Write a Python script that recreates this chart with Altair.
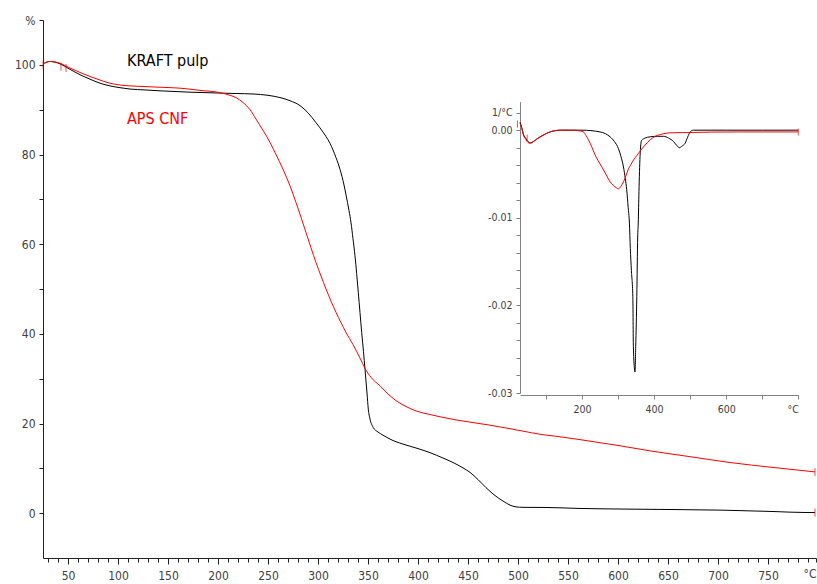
import altair as alt
import pandas as pd

# ---------------- Main TGA curves (temperature °C, mass %) ----------------
kraft_T = [25, 32, 40, 52, 62, 72, 82, 92, 102, 112, 127, 142, 157, 172, 187, 202, 218, 235,
           250, 262, 272, 282, 290, 298, 305, 308, 312, 315, 318, 322, 326, 328, 331, 333, 335,
           337, 340.3, 343.7, 345.5, 347, 349, 350.3, 352, 355.3, 360, 365, 375, 388, 400, 412,
           425, 435, 445, 452, 460, 468, 476, 485, 492, 498, 505, 528, 562, 612, 660, 705, 755,
           787, 797]
kraft_v = [100.2, 100.75, 100.4, 99.0, 97.8, 96.8, 95.9, 95.3, 94.9, 94.6, 94.4, 94.2, 94.05,
           93.9, 93.8, 93.7, 93.6, 93.5, 93.2, 92.7, 92.0, 90.9, 89.3, 87.1, 85.0, 84.0, 82.5,
           81.0, 79.3, 76.7, 73.2, 71.0, 67.5, 64.8, 61.2, 57.4, 49.2, 40.3, 36.0, 32.1, 26.8,
           23.2, 21.0, 19.1, 18.1, 17.4, 16.2, 15.2, 14.4, 13.5, 12.3, 11.3, 10.1, 9.1, 7.5, 5.7,
           4.1, 2.7, 1.8, 1.4, 1.3, 1.27, 1.05, 0.9, 0.8, 0.67, 0.37, 0.15, 0.15]

cnf_T = [25, 32, 40, 52, 62, 72, 82, 92, 102, 112, 122, 142, 162, 182, 202, 212, 218, 225,
         232, 238, 245, 252, 258, 265, 272, 278, 283, 288, 293, 298, 303, 308, 313, 318, 323,
         328, 335, 342, 347, 353, 362, 370, 378, 388, 398, 410, 422, 438, 455, 470, 488, 505,
         522, 540, 562, 600, 632, 672, 712, 755, 797]
cnf_v = [100.2, 100.75, 100.5, 99.3, 98.3, 97.4, 96.6, 95.9, 95.5, 95.3, 95.2, 95.0, 94.8,
         94.3, 93.8, 93.2, 92.7, 91.6, 90.0, 87.9, 85.4, 82.7, 80.0, 76.7, 73.0, 69.3, 66.0,
         62.6, 59.2, 55.9, 52.9, 50.0, 47.3, 44.8, 42.5, 40.3, 37.6, 34.6, 32.3, 30.3, 28.4,
         26.6, 25.1, 23.8, 22.8, 22.1, 21.5, 20.8, 20.2, 19.7, 19.0, 18.3, 17.6, 17.1, 16.4,
         15.1, 13.9, 12.6, 11.3, 10.2, 9.2]

# ---------------- Inset DTG curves (°C, 1/°C) ----------------
kraft_dT = [28, 33, 37, 45, 50, 57, 65, 75, 92, 105, 120, 140, 200, 250, 265, 278, 290, 301,
            308, 315, 320, 324, 328, 331.5, 334, 337, 341, 342.5, 346, 347, 349, 352, 354.5,
            356, 358, 361, 365, 375, 389, 410, 426, 440, 454, 462, 470, 478, 486, 493, 500,
            509, 600, 700, 800]
kraft_d = [0.0009, 0.0003, -0.0004, -0.0010, -0.0013, -0.00145, -0.0013, -0.0010, -0.00057,
           -0.0003, -0.0001, 0.0, 0.0, -0.0002, -0.0004, -0.00076, -0.0013, -0.0021, -0.0030,
           -0.0042, -0.0055, -0.0068, -0.0088, -0.0106, -0.0135, -0.016, -0.019, -0.0247,
           -0.0274, -0.0276, -0.0247, -0.019, -0.0122, -0.0106, -0.007, -0.003, -0.0012,
           -0.0009, -0.00076, -0.0007, -0.0007, -0.0009, -0.0013, -0.0017, -0.0020, -0.0018,
           -0.0015, -0.0008, -0.0002, 0.0, 0.0, 0.0, 0.0]

cnf_dT = [28, 33, 37, 45, 50, 57, 65, 75, 92, 105, 120, 140, 180, 195, 204, 211, 218, 227,
          236, 245, 255, 266, 278, 287, 296, 301, 308, 315, 322, 329, 336, 343, 352, 361, 375,
          389, 403, 417, 444, 491, 560, 630, 800]
cnf_d = [0.0008, 0.0002, -0.0005, -0.0011, -0.0014, -0.0015, -0.0013, -0.0010, -0.0006,
         -0.0003, -0.0001, 0.0, 0.0, -0.0001, -0.0002, -0.0006, -0.0011, -0.0019, -0.0028,
         -0.0035, -0.0042, -0.0050, -0.0059, -0.0063, -0.0066, -0.0067, -0.0064, -0.0059,
         -0.0052, -0.0044, -0.0039, -0.0034, -0.0029, -0.0024, -0.0017, -0.0011, -0.0007,
         -0.0005, -0.0003, -0.00027, -0.00022, -0.0002, -0.0002]

series = ["KRAFT pulp", "APS CNF"]
colors = ["#000000", "#ff0000"]

# labels drawn inside the chart
label_text = ["KRAFT pulp", "APS CNF"]
label_T = [109, 109]
label_v = [99.8, 86.9]

# red range markers
mark_T = [25, 43, 48, 797, 797]
mark_v = [100.0, 99.6, 99.3, 9.2, 0.15]
imark_T = [21, 48, 800]
imark_d = [0.0007, -0.0009, -0.0002]

# axis ticks
x_ticks = list(range(30, 800, 10)) + [798]
y_ticks = list(range(0, 111, 10))
ix_ticks = list(range(100, 801, 100))
iy_ticks = [i / 1000 for i in range(-30, 3, 2)]

df_main = pd.concat([
    pd.DataFrame({"T": kraft_T, "v": kraft_v, "series": series[0]}),
    pd.DataFrame({"T": cnf_T, "v": cnf_v, "series": series[1]}),
])
df_inset = pd.concat([
    pd.DataFrame({"Ti": kraft_dT, "d": kraft_d, "series": series[0]}),
    pd.DataFrame({"Ti": cnf_dT, "d": cnf_d, "series": series[1]}),
])
df_labels = pd.DataFrame({"T": label_T, "v": label_v, "series": series, "label": label_text})
df_marks = pd.DataFrame({"T": mark_T, "v": mark_v})
df_imarks = pd.DataFrame({"Ti": imark_T, "d": imark_d})

FONT = "DejaVu Sans Condensed"
color_scale = alt.Scale(domain=series, range=colors)

x_scale = alt.Scale(domain=[25, 798], nice=False, zero=False)
y_scale = alt.Scale(domain=[-10, 110], nice=False, zero=False)
x_axis = alt.Axis(
    title=None, values=x_ticks, grid=False,
    labelExpr="datum.value == 798 ? '°C' : (datum.value % 50 == 0 ? datum.label : '')",
    labelAlign={"condition": {"test": "datum.value == 798", "value": "right"}, "value": "center"},
    tickSize={"condition": {"test": "datum.value % 50 == 0", "value": 6}, "value": 4},
    labelOverlap=False, labelPadding=6, labelFont=FONT, labelFontSize=12,
    labelColor="#404040", domainColor="#202020", tickColor="#202020",
)
y_axis = alt.Axis(
    title=None, values=y_ticks, grid=False,
    labelExpr="datum.value == 110 ? '%' : (datum.value % 20 == 0 ? datum.label : '')",
    tickSize=4, labelOverlap=False, labelPadding=4, labelFont=FONT, labelFontSize=12,
    labelColor="#404040", domainColor="#202020", tickColor="#202020",
)

main_lines = alt.Chart(df_main).mark_line(strokeWidth=1, interpolate="monotone").encode(
    x=alt.X("T:Q", scale=x_scale, axis=x_axis),
    y=alt.Y("v:Q", scale=y_scale, axis=y_axis),
    color=alt.Color("series:N", scale=color_scale, legend=None),
)
main_text = alt.Chart(df_labels).mark_text(
    align="left", baseline="alphabetic", font=FONT, fontSize=16
).encode(
    x=alt.X("T:Q", scale=x_scale, axis=x_axis),
    y=alt.Y("v:Q", scale=y_scale, axis=y_axis),
    text="label:N",
    color=alt.Color("series:N", scale=color_scale, legend=None),
)
main_marks = alt.Chart(df_marks).mark_tick(
    orient="vertical", size=8, thickness=1, color="#ff0000"
).encode(
    x=alt.X("T:Q", scale=x_scale, axis=x_axis),
    y=alt.Y("v:Q", scale=y_scale, axis=y_axis),
)
main = alt.layer(main_lines, main_text, main_marks)

# ---------------- inset ----------------
ix_scale = alt.Scale(domain=[28, 800], range=[477, 755.3], nice=False, zero=False)
iy_scale = alt.Scale(domain=[-0.03, 0.00325], range=[373, 81.7], nice=False, zero=False)
ix_axis = alt.Axis(
    title=None, orient="bottom", offset=-163, values=ix_ticks, grid=False,
    labelExpr="datum.value == 800 ? '°C' : (datum.value % 200 == 0 ? datum.label : '')",
    tickSize=4, labelOverlap=False, labelPadding=5, labelFont=FONT, labelFontSize=10.5,
    labelColor="#404040", domainColor="#808080", tickColor="#808080",
)
iy_axis = alt.Axis(
    title=None, orient="left", offset=-477, values=iy_ticks, grid=False,
    labelExpr=("abs(datum.value - 0.002) < 1e-6 ? '1/°C' : "
               "(abs(datum.value * 100 - round(datum.value * 100)) < 1e-6 ? "
               "replace(format(datum.value, '.2f'), '\u2212', '-') : '')"),
    tickSize=4, labelOverlap=False, labelPadding=4, labelFont=FONT, labelFontSize=10.5,
    labelColor="#404040", domainColor="#808080", tickColor="#808080",
)
inset_lines = alt.Chart(df_inset).mark_line(strokeWidth=1, interpolate="monotone").encode(
    x=alt.X("Ti:Q", scale=ix_scale, axis=ix_axis),
    y=alt.Y("d:Q", scale=iy_scale, axis=iy_axis),
    color=alt.Color("series:N", scale=color_scale, legend=None),
)
inset_marks = alt.Chart(df_imarks).mark_tick(
    orient="vertical", size=7, thickness=1, color="#ff0000"
).encode(
    x=alt.X("Ti:Q", scale=ix_scale, axis=ix_axis),
    y=alt.Y("d:Q", scale=iy_scale, axis=iy_axis),
)
inset = alt.layer(inset_lines, inset_marks)

chart = alt.layer(main, inset).resolve_scale(
    x="independent", y="independent"
).properties(
    width=773, height=538,
    autosize=alt.AutoSizeParams(type="none"),
    padding={"left": 43, "top": 20, "right": 1, "bottom": 26},
    background="white",
).configure_view(stroke=None)

chart.save("out.html", embed_options={"renderer": "svg", "actions": False})
